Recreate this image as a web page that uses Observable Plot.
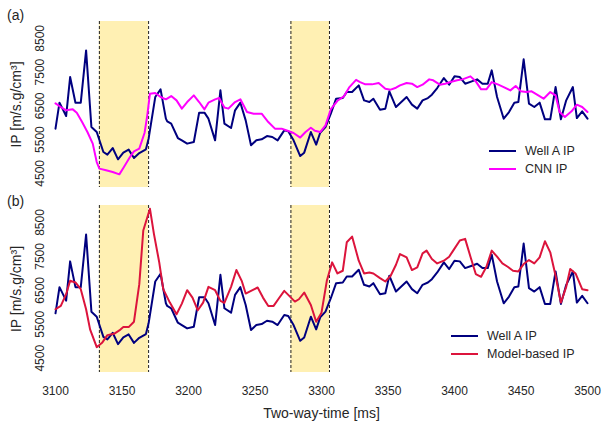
<!DOCTYPE html>
<html><head><meta charset="utf-8">
<script src="https://cdn.jsdelivr.net/npm/d3@7"></script>
<script src="https://cdn.jsdelivr.net/npm/@observablehq/plot@0.6"></script>
<style>
body{margin:0;background:#fff;font-family:"Liberation Sans",Arial,sans-serif;}
#wrap{position:relative;width:603px;height:422px;overflow:hidden;}
.panel{position:absolute;left:0;}
.tag{position:absolute;font-size:14px;color:#262626;line-height:14px;}
.legend{position:absolute;font-size:12.5px;color:#262626;}
.item{height:18px;line-height:18px;display:flex;align-items:center;white-space:nowrap;}
.sw{display:inline-block;width:27px;height:2px;margin-right:9px;}
</style></head><body><div id="wrap"></div>
<script>
const yTicks = [4500, 5500, 6500, 7500, 8500];
const xTicks = [3100, 3150, 3200, 3250, 3300, 3350, 3400, 3450, 3500];
const bandStart = [3133, 3277];
const bandEnd = [3170, 3306];

const wellA = [[3100,5824],[3103,6594],[3108,6198],[3111,7354],[3115,6594],[3119,6594],[3123,8144],[3127,5872],[3131,5724],[3136,5131],[3139,5053],[3143,5250],[3147,4915],[3151,5113],[3155,5202],[3159,4953],[3163,5101],[3168,5211],[3170,5528],[3175,6761],[3179,6989],[3183,6120],[3184,6040],[3187,5972],[3192,5546],[3195,5478],[3199,5380],[3204,5427],[3208,6298],[3212,6298],[3215,6120],[3220,5478],[3224,6959],[3227,5972],[3232,5843],[3235,6367],[3239,6594],[3243,6070],[3247,5330],[3251,5478],[3255,5507],[3259,5605],[3263,5576],[3267,5478],[3272,5774],[3275,5744],[3279,5478],[3284,5013],[3287,5113],[3292,5724],[3296,5350],[3299,5704],[3303,5872],[3307,6268],[3311,6712],[3316,6731],[3319,6909],[3323,6909],[3328,7107],[3332,6663],[3336,6613],[3339,6712],[3344,6387],[3348,6417],[3351,6930],[3356,6465],[3360,6613],[3364,6761],[3368,6535],[3372,6417],[3376,6663],[3380,6731],[3383,6830],[3387,7028],[3392,7324],[3396,7127],[3400,7374],[3404,7354],[3408,7156],[3413,7226],[3417,7285],[3421,7156],[3425,7156],[3428,7552],[3432,6761],[3437,6120],[3441,6316],[3445,6594],[3448,6613],[3452,7878],[3456,6565],[3460,6465],[3464,6594],[3468,6100],[3472,6100],[3476,7057],[3480,6100],[3484,6663],[3489,7057],[3492,6139],[3496,6337],[3500,6120]];

const cnnIP = [[3100,6574],[3104,6465],[3108,6367],[3113,6396],[3116,6298],[3120,6021],[3124,5724],[3128,5380],[3131,4835],[3133,4639],[3138,4589],[3143,4539],[3148,4470],[3151,4657],[3156,4983],[3159,5152],[3163,5232],[3167,5704],[3169,6219],[3171,6861],[3175,6880],[3179,6761],[3183,6693],[3187,6791],[3191,6663],[3195,6417],[3199,6613],[3204,6811],[3208,6613],[3212,6396],[3215,6594],[3220,6693],[3223,6731],[3227,6450],[3230,6417],[3235,6613],[3239,6693],[3244,6316],[3249,6268],[3255,6268],[3260,6021],[3265,5824],[3270,5824],[3275,5753],[3279,5694],[3284,5560],[3288,5724],[3292,5850],[3295,5760],[3299,5724],[3303,5922],[3307,6400],[3312,6650],[3317,6790],[3321,7057],[3326,7270],[3329,7205],[3333,7137],[3338,7137],[3343,7176],[3348,7008],[3352,6979],[3356,7038],[3359,7107],[3364,7176],[3368,7156],[3372,7057],[3376,7127],[3381,7285],[3384,7256],[3389,7127],[3393,7156],[3397,7205],[3402,7256],[3406,7285],[3412,7374],[3416,7226],[3420,6989],[3424,6989],[3428,7205],[3433,7127],[3437,7057],[3442,6959],[3446,7087],[3450,6930],[3454,6909],[3458,6930],[3463,6811],[3467,6712],[3472,6909],[3476,6811],[3479,6316],[3483,6168],[3488,6337],[3492,6535],[3496,6465],[3500,6316]];

const modelIP = [[3100,5943],[3104,6041],[3108,6387],[3111,6781],[3115,6732],[3119,6535],[3123,5943],[3126,5350],[3131,4826],[3135,4954],[3139,5181],[3144,5220],[3148,5319],[3151,5418],[3155,5418],[3159,5576],[3163,6683],[3166,8263],[3171,8906],[3174,8165],[3178,7324],[3181,6535],[3186,6140],[3191,5795],[3195,6110],[3199,6505],[3203,6287],[3207,5913],[3211,6140],[3215,6604],[3220,6505],[3224,6189],[3227,6130],[3232,6604],[3236,7098],[3240,6781],[3243,6406],[3247,6485],[3252,6584],[3256,6287],[3260,6041],[3264,6041],[3268,6268],[3272,6485],[3275,6367],[3280,6169],[3283,6238],[3287,6436],[3292,6070],[3296,5576],[3300,5843],[3304,6781],[3308,7324],[3312,6998],[3316,7078],[3319,7916],[3323,8085],[3328,7374],[3332,6998],[3336,7028],[3339,6998],[3344,6860],[3348,6761],[3352,6930],[3356,7255],[3359,7570],[3364,7472],[3368,7098],[3372,7176],[3376,7590],[3379,7670],[3383,7424],[3387,7294],[3392,7374],[3396,7492],[3399,7670],[3404,7967],[3408,8016],[3412,7492],[3416,6980],[3420,6900],[3424,7196],[3428,7670],[3432,7492],[3436,7294],[3440,7196],[3444,7078],[3448,7058],[3452,7275],[3456,7393],[3460,7294],[3464,7472],[3468,7946],[3472,7620],[3476,6930],[3480,6140],[3484,6604],[3487,7127],[3491,6998],[3496,6535],[3500,6505]];

const bands = bandStart.map((s, i) => ({start: s, end: bandEnd[i]}));
const edges = bandStart.concat(bandEnd);

const NAVY = "#00007f", MAGENTA = "#ff00ff", CRIMSON = "#dc143c";
const BAND = "#fff0b3";
const FONT = '"Liberation Sans", Arial, sans-serif';
const fmt = d3.format("d");

function panel(series, color, opts) {
  return Plot.plot({
    width: 603,
    height: opts.height,
    marginTop: opts.marginTop,
    marginBottom: opts.marginBottom,
    marginLeft: 55,
    marginRight: 16,
    style: {fontFamily: FONT, fontSize: "12px", color: "#262626", background: "transparent", overflow: "visible"},
    x: {domain: [3100, 3500]},
    y: {domain: [4080, 9000]},
    marks: [
      Plot.rect(bands, {x1: "start", x2: "end", fill: BAND}),
      Plot.ruleX(edges, {stroke: "#222", strokeWidth: 1, strokeDasharray: "3,2"}),
      Plot.line(wellA, {x: d => d[0], y: d => d[1], stroke: NAVY, strokeWidth: 2}),
      Plot.line(series, {x: d => d[0], y: d => d[1], stroke: color, strokeWidth: 2}),
      Plot.axisY(yTicks, {tickSize: 0, tickRotate: -90, tickPadding: 12, fontSize: 12,
        tickFormat: fmt, label: null}),
      Plot.axisY([], {tickSize: 0, fontSize: 14,
        label: "IP [m/s.g/cm³]", labelAnchor: "center", labelOffset: 44, labelArrow: "none"}),
      ...(opts.xAxis ? [
        Plot.axisX(xTicks, {tickSize: 0, tickPadding: 14, fontSize: 12, tickFormat: fmt, label: null}),
        Plot.axisX([], {tickSize: 0, fontSize: 14,
          label: "Two-way-time [ms]", labelAnchor: "center", labelOffset: 45, labelArrow: "none"})
      ] : [Plot.axisX([], {tickSize: 0, label: null})])
    ]
  });
}

const wrap = document.getElementById("wrap");
function place(node, top) {
  node.classList.add("panel");
  node.style.top = top + "px";
  wrap.appendChild(node);
}
const top1 = panel(cnnIP, MAGENTA, {height: 190, marginTop: 21, marginBottom: 3, xAxis: false});
place(top1, 0);
const bot = panel(modelIP, CRIMSON, {height: 232, marginTop: 15, marginBottom: 50, xAxis: true});
place(bot, 190);

function tag(text, left, top) {
  const d = document.createElement("div");
  d.className = "tag"; d.textContent = text;
  d.style.left = left + "px"; d.style.top = top + "px";
  wrap.appendChild(d);
}
tag("(a)", 7, 8);
tag("(b)", 7, 194);

function legend(items, left, top) {
  const d = document.createElement("div");
  d.className = "legend";
  d.style.left = left + "px"; d.style.top = top + "px";
  for (const [name, color] of items) {
    const r = document.createElement("div"); r.className = "item";
    const s = document.createElement("span"); s.className = "sw"; s.style.background = color;
    r.appendChild(s); r.appendChild(document.createTextNode(name));
    d.appendChild(r);
  }
  wrap.appendChild(d);
}
legend([["Well A IP", NAVY], ["CNN IP", MAGENTA]], 489, 142);
legend([["Well A IP", NAVY], ["Model-based IP", CRIMSON]], 451, 327);
</script>
</body></html>
